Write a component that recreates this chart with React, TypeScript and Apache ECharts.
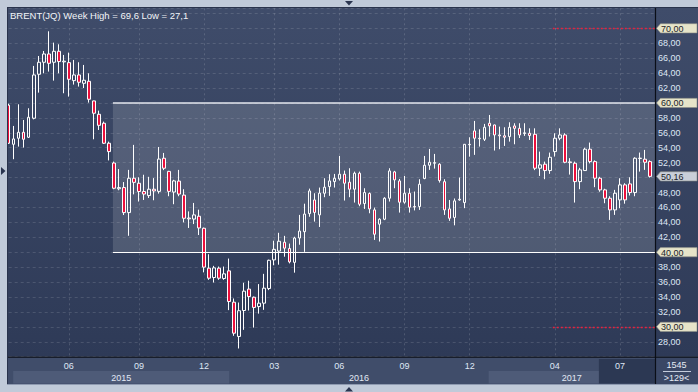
import React, { useEffect, useRef } from "react";
import * as echarts from "echarts";

// ---- Data (weekly Brent candles) ----
const opens = [
  59.7, 54.46, 55.27, 56.07, 55.4, 57.95, 63.84, 65.45, 66.56, 65.45,
  66.92, 65.5, 65.4, 62.99, 63.75, 62.63, 62.9, 60.27, 58.48, 57.28,
  54.6, 51.95, 48.5, 48.66, 45.31, 49.91, 49.24, 48.13, 47.59, 48.44,
  48.15, 52.59, 50.83, 48.06, 49.53, 47.65, 44.58, 44.44, 44.82, 43.21,
  37.86, 36.61, 37.86, 36.48, 37.5, 33.3, 28.71, 32.19, 35.06, 33.97,
  32.72, 33.17, 35.13, 38.97, 40.15, 41.34, 40.5, 38.64, 41.9, 42.75,
  45.17, 47.0, 45.0, 47.9, 48.79, 49.46, 49.82, 50.45, 49.38, 48.44,
  50.58, 46.52, 47.86, 45.67, 43.75, 44.42, 47.23, 50.76, 49.55, 46.7,
  47.9, 46.12, 46.12, 49.87, 51.65, 51.92, 51.79, 49.45, 45.8, 44.66,
  47.0, 46.65, 54.4, 56.25, 55.27, 55.13, 57.28, 57.05, 55.71, 55.6,
  55.49, 56.92, 56.6, 55.9, 55.94, 55.8, 51.25, 51.79, 50.94, 53.48,
  55.27, 55.71, 52.1, 51.92, 49.46, 50.94, 53.8, 52.14, 49.91, 48.35,
  47.23, 45.67, 47.01, 49.02, 49.15, 47.99, 52.55, 52.46, 52.14,
];
const closes = [
  54.6, 55.18, 56.07, 55.13, 58.08, 63.75, 65.45, 66.56, 65.31, 66.92,
  65.54, 65.6, 63.17, 63.75, 62.77, 63.04, 60.49, 58.62, 57.0, 54.6,
  53.48, 48.57, 48.66, 45.31, 49.91, 49.36, 48.13, 47.79, 48.44, 48.21,
  52.48, 51.25, 48.15, 49.55, 47.79, 44.55, 44.47, 45.0, 43.25, 38.0,
  36.52, 37.9, 36.52, 37.1, 33.39, 29.15, 32.16, 34.78, 34.06, 32.6,
  33.17, 35.18, 38.92, 40.38, 41.47, 40.54, 38.7, 41.9, 42.83, 45.11,
  48.21, 45.33, 47.92, 48.71, 49.55, 49.91, 50.45, 49.24, 48.44, 50.58,
  46.43, 47.99, 45.8, 42.41, 44.42, 47.23, 50.89, 49.69, 46.7, 47.9,
  46.03, 46.05, 49.11, 51.65, 52.05, 52.0, 49.6, 45.67, 44.55, 46.88,
  47.1, 54.46, 54.45, 55.27, 55.2, 56.74, 56.92, 55.71, 55.6, 55.4,
  56.74, 56.6, 55.71, 56.0, 55.63, 51.25, 51.7, 50.94, 52.72, 55.27,
  55.71, 52.05, 52.0, 49.46, 51.03, 53.8, 52.14, 49.91, 48.35, 47.23,
  45.67, 47.9, 49.02, 47.01, 47.99, 52.59, 52.6, 52.05, 50.16,
];
const lows = [
  54.5, 52.46, 54.15, 54.02, 55.3, 57.8, 61.38, 63.97, 64.2, 62.99,
  63.97, 61.3, 60.85, 62.46, 62.19, 62.0, 60.04, 55.13, 56.38, 54.5,
  52.3, 48.44, 48.3, 44.98, 42.2, 47.75, 46.79, 47.0, 47.26, 46.96,
  47.85, 51.0, 47.5, 46.43, 47.5, 44.0, 43.25, 43.77, 42.3, 37.3,
  36.3, 35.94, 36.3, 36.3, 32.24, 28.8, 27.1, 29.6, 32.19, 29.9,
  31.77, 32.28, 34.92, 38.25, 38.33, 39.4, 38.5, 37.26, 41.0, 40.05,
  44.75, 44.1, 43.38, 47.37, 47.55, 48.66, 49.6, 46.92, 47.37, 46.65,
  46.16, 45.8, 45.22, 41.65, 41.43, 44.3, 46.79, 48.57, 45.31, 46.5,
  45.31, 45.6, 45.67, 49.78, 51.03, 51.2, 49.33, 45.0, 44.2, 43.6,
  46.9, 45.9, 52.8, 53.04, 54.15, 54.9, 55.5, 53.62, 53.8, 54.24,
  54.82, 54.46, 55.3, 55.58, 55.04, 51.0, 50.22, 49.78, 50.5, 52.81,
  55.0, 51.92, 50.4, 46.65, 48.44, 50.9, 51.9, 48.71, 48.1, 46.56,
  44.33, 45.0, 45.89, 46.5, 47.6, 47.5, 50.8, 51.03, 50.0,
];
const highs = [
  59.9, 56.92, 59.82, 57.72, 59.29, 64.96, 66.29, 66.96, 69.6, 68.08,
  67.86, 66.43, 66.74, 65.76, 65.45, 65.09, 63.97, 60.3, 58.97, 57.5,
  54.82, 52.14, 51.14, 49.4, 51.03, 54.38, 50.04, 50.38, 50.1, 49.93,
  54.1, 53.3, 50.9, 49.7, 51.03, 48.44, 45.47, 46.6, 45.7, 43.3,
  39.73, 38.17, 38.08, 38.08, 39.15, 33.8, 33.26, 35.9, 36.18, 34.06,
  35.73, 37.1, 39.0, 41.54, 42.6, 42.19, 41.16, 42.07, 45.0, 46.5,
  48.52, 47.9, 48.66, 49.91, 50.45, 50.49, 52.9, 50.94, 51.25, 50.8,
  50.8, 48.57, 48.0, 45.98, 44.55, 47.37, 51.25, 50.9, 49.82, 50.22,
  48.57, 48.13, 49.78, 52.9, 53.84, 53.17, 51.92, 49.78, 47.0, 47.2,
  50.0, 54.5, 55.4, 57.59, 56.47, 57.19, 58.39, 57.1, 56.83, 56.74,
  57.41, 57.28, 57.28, 57.28, 56.6, 56.6, 53.48, 52.14, 53.35, 55.94,
  56.6, 55.94, 52.6, 52.14, 51.3, 54.0, 54.69, 52.3, 50.1, 48.5,
  47.5, 48.35, 49.91, 49.24, 50.04, 52.72, 53.35, 53.71, 52.3,
];

// weekly categories (one per candle) plus one empty slot on the right
const firstWeekUTC = Date.UTC(2015, 2, 9);
const weeks: string[] = opens.map((_, i) =>
  new Date(firstWeekUTC + i * 7 * 86400000).toISOString().slice(0, 10)
);
const categories = [...weeks, ""];

// month tick labels: [category index, label]
const monthTicks: [number, string][] = [
  [12, "06"], [26, "09"], [39, "12"], [53, "03"], [66, "06"],
  [79, "09"], [92, "12"], [109, "04"], [122, "07"],
];
// year bands: [from index, to index, label, shaded]
const yearBands: [number, number, string, boolean][] = [
  [0.9, 44, "2015", true],
  [44, 95.8, "2016", false],
  [95.8, 129, "2017", true],
];
const dimFromIndex = 117.8;

const titleText = "BRENT(JQ) Week High = 69,6 Low = 27,1";
const yMin = 26;
const yMax = 72.68;
const yStep = 2;
const zoneTop = 60;
const zoneBottom = 40;
const zoneFromIndex = 20.8;
const alertLevels = [70, 30];
const alertFromIndex = 108.6;
const boxedLevels = [70, 60, 40, 30];
const lastClose = 50.16;
const footerTop = "1545";
const footerBottom = ">129<";

const FONT = "Liberation Sans, Arial, sans-serif";
const fmt = (v: number) => v.toFixed(2).replace(".", ",");

export default function App() {
  const ref = useRef<HTMLDivElement>(null);
  useEffect(() => {
    const chart = echarts.init(ref.current!, null, { renderer: "svg" });
    const tickMap = new Map(monthTicks.map(([i, l]) => [i, l]));
    const xMax = categories.length - 1;
    const hiddenY = [yMin, 72, ...boxedLevels, 50];

    chart.setOption({
      animation: false,
      title: {
        text: titleText,
        left: 10,
        top: 10,
        padding: 0,
        textStyle: { color: "#f2f4f8", fontSize: 9.5, fontWeight: "normal", fontFamily: FONT },
      },
      grid: { left: 8.7, top: 8.3, width: 646.3, height: 348.4 },
      xAxis: [
        {
          type: "category",
          data: categories,
          boundaryGap: false,
          axisLine: { show: false },
          axisTick: { show: false },
          axisLabel: {
            interval: (i: number) => tickMap.has(i),
            formatter: (_v: string, i: number) => tickMap.get(i) ?? "",
            color: (_v: string, i: number) => (i >= dimFromIndex ? "#6c7a96" : "#dfe7f5"),
            fontSize: 9,
            fontFamily: FONT,
            margin: 5,
          },
          splitLine: {
            show: true,
            interval: (i: number) => tickMap.has(i),
            lineStyle: { color: "rgba(255,255,255,0.15)", type: [2, 3], width: 1 },
          },
        },
        { type: "value", min: 0, max: xMax, show: false },
      ],
      yAxis: {
        type: "value",
        position: "right",
        min: yMin,
        max: yMax,
        interval: yStep,
        axisLine: { show: false },
        axisTick: { show: false },
        axisLabel: {
          color: "#dfe7f5",
          fontSize: 9,
          fontFamily: FONT,
          margin: 3,
          formatter: (v: number) => {
            const r = Math.round(v * 100) / 100;
            if (Math.abs(r - Math.round(r)) > 0.001) return "";
            if (hiddenY.some((h) => Math.abs(h - r) < 0.001)) return "";
            return fmt(r);
          },
        },
        splitLine: { lineStyle: { color: "rgba(255,255,255,0.13)", type: [3, 3], width: 1 } },
      },
      series: [
        {
          type: "line",
          xAxisIndex: 1,
          yAxisIndex: 0,
          data: [],
          silent: true,
          z: 1,
          markArea: {
            silent: true,
            itemStyle: { color: "rgba(255,255,255,0.14)" },
            data: [[{ coord: [zoneFromIndex, zoneTop] }, { coord: [xMax, zoneBottom] }]],
          },
          markLine: {
            silent: true,
            symbol: "none",
            label: { show: false },
            data: [
              [
                { coord: [zoneFromIndex, zoneTop], lineStyle: { color: "#e4e7ee", width: 1.6, type: "solid" } },
                { coord: [xMax, zoneTop] },
              ],
              [
                { coord: [zoneFromIndex, zoneBottom], lineStyle: { color: "#ffffff", width: 1, type: "solid" } },
                { coord: [xMax, zoneBottom] },
              ],
              ...alertLevels.map((lv) => [
                { coord: [alertFromIndex, lv], lineStyle: { color: "#e4223f", width: 1.3, type: [2, 2] } },
                { coord: [xMax, lv] },
              ]),
            ],
          },
        },
        {
          type: "candlestick",
          xAxisIndex: 0,
          yAxisIndex: 0,
          z: 3,
          clip: true,
          barWidth: 3,
          data: opens.map((o, i) => [o, closes[i], lows[i], highs[i]]),
          itemStyle: {
            color: "rgba(0,0,0,0)",
            color0: "#ec0f3c",
            borderColor: "#ffffff",
            borderColor0: "#ffffff",
            borderWidth: 1,
          },
          emphasis: { disabled: true },
        },
      ],
    });

    const px = (k: number) => chart.convertToPixel({ xAxisIndex: 1 }, k) as number;
    const py = (v: number) => chart.convertToPixel({ yAxisIndex: 0 }, v) as number;
    const right = px(xMax);
    const bottom = py(yMin);

    const g: any[] = [];
    // panels
    g.push({
      type: "rect", z: -10, silent: true,
      shape: { x: 8, y: 8, width: 690, height: bottom - 8 },
      style: {
        fill: new echarts.graphic.LinearGradient(0, 0, 0, 1, [
          { offset: 0, color: "#3f4c6a" },
          { offset: 1, color: "#2e3a57" },
        ]),
      },
    });
    g.push({ type: "rect", z: -9, silent: true, shape: { x: 8, y: bottom, width: right - 8, height: 384 - bottom }, style: { fill: "#404d6a" } });
    g.push({ type: "rect", z: -9, silent: true, shape: { x: right, y: bottom, width: 698 - right, height: 384 - bottom }, style: { fill: "#3a4765" } });
    // year bands
    yearBands.forEach(([a, b, label, shaded]) => {
      const x0 = px(a);
      const x1 = px(b);
      if (shaded) g.push({ type: "rect", z: -8, silent: true, shape: { x: x0, y: 371, width: x1 - x0, height: 12.5 }, style: { fill: "#4e5b78" } });
      g.push({
        type: "text", z: 20, silent: true, x: (x0 + x1) / 2, y: 377.5,
        style: { text: label, fill: "#e2e8f4", font: `9px ${FONT}`, align: "center", verticalAlign: "middle" },
      });
    });
    // dim block at the right of the time axis
    g.push({ type: "rect", z: -7, silent: true, shape: { x: px(dimFromIndex), y: 359, width: right - px(dimFromIndex), height: 24.5 }, style: { fill: "#2c3853" } });
    // frame lines
    g.push({ type: "line", z: 30, silent: true, shape: { x1: right + 0.5, y1: 8, x2: right + 0.5, y2: 384 }, style: { stroke: "#0a0e17", lineWidth: 1.2 } });
    g.push({ type: "line", z: 30, silent: true, shape: { x1: 8, y1: bottom + 0.5, x2: 698, y2: bottom + 0.5 }, style: { stroke: "#0a0e17", lineWidth: 1.2 } });
    g.push({ type: "line", z: 30, silent: true, shape: { x1: 7.5, y1: 7, x2: 7.5, y2: 384.5 }, style: { stroke: "#29334c", lineWidth: 1 } });
    g.push({ type: "line", z: 30, silent: true, shape: { x1: 7, y1: 7.5, x2: 698, y2: 7.5 }, style: { stroke: "#29334c", lineWidth: 1 } });
    g.push({ type: "line", z: 30, silent: true, shape: { x1: 7, y1: 384.5, x2: 698, y2: 384.5 }, style: { stroke: "#8e9ab0", lineWidth: 1 } });
    // footer box texts
    g.push({ type: "text", z: 30, silent: true, x: (right + 698) / 2, y: 365, style: { text: footerTop, fill: "#e6ebf5", font: `9px ${FONT}`, align: "center", verticalAlign: "middle" } });
    g.push({ type: "line", z: 30, silent: true, shape: { x1: right + 8, y1: 371.5, x2: 691, y2: 371.5 }, style: { stroke: "#c4ccdc", lineWidth: 1 } });
    g.push({ type: "text", z: 30, silent: true, x: (right + 698) / 2, y: 378, style: { text: footerBottom, fill: "#e6ebf5", font: `9px ${FONT}`, align: "center", verticalAlign: "middle" } });
    // little navigation arrows on the frame
    g.push({ type: "polygon", z: 30, silent: true, shape: { points: [[345, 1], [353, 1], [349, 5.5]] }, style: { fill: "#2a3550" } });
    g.push({ type: "polygon", z: 30, silent: true, shape: { points: [[1, 167], [1, 175], [5.5, 171]] }, style: { fill: "#2a3550" } });
    g.push({ type: "polygon", z: 30, silent: true, shape: { points: [[345, 391.5], [353, 391.5], [349, 387]] }, style: { fill: "#2a3550" } });
    // price boxes on the right axis
    const box = (v: number, fill: string) => {
      const y = py(v);
      const x0 = right + 1.5;
      g.push({
        type: "polygon", z: 40, silent: true,
        shape: { points: [[x0, y], [x0 + 4, y - 4.6], [697, y - 4.6], [697, y + 4.6], [x0 + 4, y + 4.6]] },
        style: { fill, stroke: "#8d8f86", lineWidth: 0.6 },
      });
      g.push({
        type: "text", z: 41, silent: true, x: x0 + 4.5, y: y + 0.3,
        style: { text: fmt(v), fill: "#1b1d28", font: `9px ${FONT}`, align: "left", verticalAlign: "middle" },
      });
    };
    boxedLevels.forEach((v) => box(v, "#e6e4c9"));
    box(lastClose, "#c9cfd9");

    chart.setOption({ graphic: g });
    return () => chart.dispose();
  }, []);

  return (
    <div
      ref={ref}
      style={{ position: "absolute", left: 0, top: 0, width: 698, height: 392, background: "#c0cad9" }}
    />
  );
}
